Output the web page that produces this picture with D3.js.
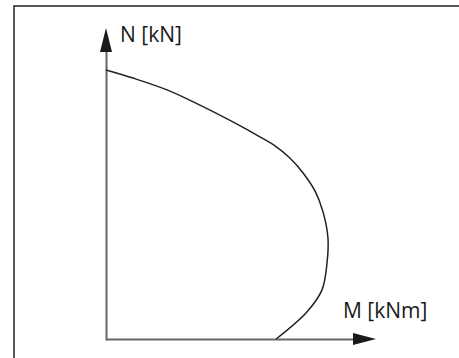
<!DOCTYPE html>
<html>
<head>
<meta charset="utf-8">
<script src="https://cdn.jsdelivr.net/npm/d3@7"></script>
<style>
  html, body { margin: 0; padding: 0; background: #fff; }
  svg { display: block; }
</style>
</head>
<body>
<svg width="459" height="358"></svg>
<script>
// interaction curve, M [kNm] vs N [kN]
var mValues = [0, 10, 22.6, 34.8, 47.0, 57.0, 62.6, 68.1, 73.0, 77.4, 80.4, 82.2, 81.9, 80.0, 74.4, 63.0];
var nValues = [86.5, 83.9, 80.1, 75.2, 69.8, 65.0, 62.1, 58.2, 53.4, 47.6, 40.8, 32.5, 24.8, 15.8, 8.7, 0];
var xLabel = "M [kNm]";
var yLabel = "N [kN]";

var points = mValues.map(function(m, i) { return {m: m, n: nValues[i]}; });

var svg = d3.select("svg");

// frame (cropped: only top and left edges visible)
svg.append("path")
    .attr("d", "M14,358V6H459")
    .attr("fill", "none")
    .attr("stroke", "#222")
    .attr("stroke-width", 1.5);

var x = d3.scaleLinear().domain([0, 100]).range([106, 376]),
    y = d3.scaleLinear().domain([0, 100]).range([339, 28]);

var axisColor = "#666";

// axes without ticks, the domain line stops where the arrow head begins
var xAxis = svg.append("g")
    .attr("transform", "translate(0," + y(0) + ")")
    .call(d3.axisBottom(d3.scaleLinear().domain([0, 100]).range([x(0), x(100) - 20])).tickValues([]).tickSizeOuter(0));
xAxis.select(".domain").attr("stroke", axisColor).attr("stroke-width", 2);

var yAxis = svg.append("g")
    .attr("transform", "translate(" + x(0) + ",0)")
    .call(d3.axisLeft(d3.scaleLinear().domain([0, 100]).range([y(0) + 1, y(100) + 20])).tickValues([]).tickSizeOuter(0));
yAxis.select(".domain").attr("stroke", axisColor).attr("stroke-width", 2);

// arrow heads
svg.append("path")
    .attr("d", "M" + x(100) + "," + y(0) + "L" + (x(100) - 23) + "," + (y(0) - 6) + "L" + (x(100) - 23) + "," + (y(0) + 6) + "Z")
    .attr("fill", "#1a1a1a");
svg.append("path")
    .attr("d", "M" + x(0) + "," + y(100) + "L" + (x(0) - 6) + "," + (y(100) + 24) + "L" + (x(0) + 6) + "," + (y(100) + 24) + "Z")
    .attr("fill", "#1a1a1a");

var line = d3.line()
    .curve(d3.curveCatmullRom.alpha(0.5))
    .x(function(d) { return x(d.m); })
    .y(function(d) { return y(d.n); });

svg.append("path")
    .datum(points)
    .attr("d", line)
    .attr("fill", "none")
    .attr("stroke", "#222")
    .attr("stroke-width", 1.5);

svg.append("text")
    .attr("x", x(0) + 14)
    .attr("y", y(100) + 14)
    .attr("fill", "#1a1a1a")
    .style("font", "21px 'Open Sans', sans-serif")
    .text(yLabel);

svg.append("text")
    .attr("x", x(100) - 33)
    .attr("y", y(0) - 21)
    .attr("fill", "#1a1a1a")
    .style("font", "21px 'Open Sans', sans-serif")
    .text(xLabel);
</script>
</body>
</html>
